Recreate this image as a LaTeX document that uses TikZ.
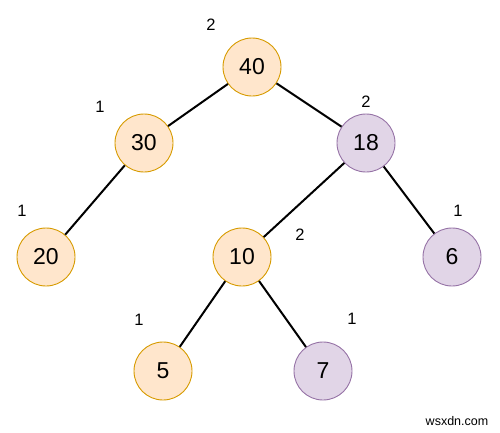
\documentclass[tikz,border=0pt]{standalone}
\usepackage{fontspec}
\setmainfont{Liberation Sans}
\definecolor{ofill}{HTML}{FFE6CC}
\definecolor{odraw}{HTML}{D79B00}
\definecolor{pfill}{HTML}{E1D5E7}
\definecolor{pdraw}{HTML}{9673A6}
\begin{document}
\begin{tikzpicture}[x=1pt,y=-1pt,
  nd/.style={circle,minimum size=58pt,inner sep=0pt,line width=0.9pt,font=\fontsize{23}{23}\selectfont},
  orn/.style={nd,fill=ofill,draw=odraw},
  pur/.style={nd,fill=pfill,draw=pdraw},
  lbl/.style={font=\fontsize{16.5}{16.5}\selectfont,inner sep=0pt},
  edge/.style={line width=2pt}]
\useasboundingbox (0,0) rectangle (500,432);
\node[orn] (n40) at (252,67) {40};
\node[orn] (n30) at (144,143) {30};
\node[pur] (n18) at (366,143) {18};
\node[orn] (n20) at (46,257) {20};
\node[orn] (n10) at (242,257) {10};
\node[pur] (n6) at (452,257) {6};
\node[orn] (n5) at (163,371) {5};
\node[pur] (n7) at (323,371) {7};
\draw[edge] (n40) -- (n30);
\draw[edge] (n40) -- (n18);
\draw[edge] (n30) -- (n20);
\draw[edge] (n18) -- (n10);
\draw[edge] (n18) -- (n6);
\draw[edge] (n10) -- (n5);
\draw[edge] (n10) -- (n7);
\node[lbl] (l40) at (211,25) {2};
\node[lbl] (l30) at (100,107) {1};
\node[lbl] (l18) at (366,102) {2};
\node[lbl] (l20) at (22,211) {1};
\node[lbl] (l10) at (300,235) {2};
\node[lbl] (l6) at (458,211) {1};
\node[lbl] (l5) at (139,320) {1};
\node[lbl] (l7) at (352,319) {1};
\node[font=\fontsize{12.5}{12.5}\selectfont,inner sep=0pt] (wm) at (457,421) {wsxdn.com};
\end{tikzpicture}
\end{document}
